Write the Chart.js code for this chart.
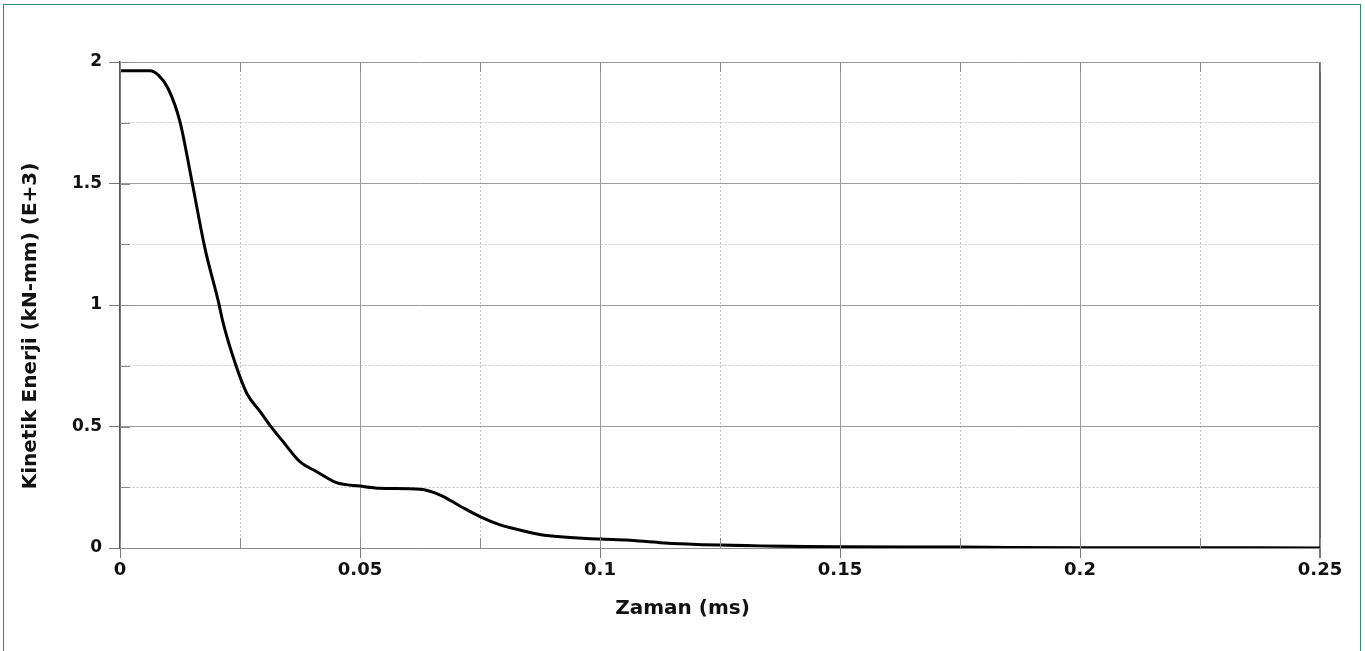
<!DOCTYPE html>
<html>
<head>
<meta charset="utf-8">
<script src="https://cdn.jsdelivr.net/npm/chart.js@4.4.1/dist/chart.umd.min.js"></script>
<style>
  html, body { margin: 0; padding: 0; background: #fff; overflow: hidden; }
  #wrap { position: relative; width: 1365px; height: 651px; }
  #frame { position: absolute; left: 3px; top: 4px; width: 1356px; height: 700px;
           border: 1px solid #2e8b76; border-bottom: none; pointer-events: none; }
  canvas { position: absolute; left: 0; top: 0; }
</style>
</head>
<body>
<div id="wrap">
  <canvas id="keChart" width="1365" height="651"></canvas>
  <div id="frame"></div>
</div>
<script>
// Zaman (ms)
var timeMs = [0, 0.00625, 0.008, 0.01, 0.0125, 0.015, 0.0177, 0.0205, 0.0215, 0.024, 0.0264,
  0.0292, 0.0312, 0.034, 0.0375, 0.041, 0.0451, 0.05, 0.0542, 0.0625, 0.0667, 0.0708, 0.075,
  0.0792, 0.0833, 0.0889, 0.1, 0.1056, 0.1125, 0.125, 0.15, 0.175, 0.185, 0.2, 0.25];
// Kinetik Enerji (kN-mm) (E+3)
var kinEnergy = [1.964, 1.964, 1.946, 1.892, 1.754, 1.507, 1.233, 1.014, 0.925, 0.760, 0.637,
  0.561, 0.506, 0.437, 0.355, 0.314, 0.269, 0.255, 0.246, 0.2415, 0.218, 0.173, 0.129,
  0.095, 0.074, 0.051, 0.037, 0.033, 0.022, 0.012, 0.005, 0.004, 0.002, 0.001, 0.0005];

var xRange = [0, 0.25], xStep = 0.025, xMajor = 0.05;
var yRange = [0, 2], yStep = 0.25, yMajor = 0.5;
var xTitle = 'Zaman (ms)';
var yTitle = 'Kinetik Enerji (kN-mm) (E+3)';

function isMajor(v, m) { return Math.abs(v / m - Math.round(v / m)) < 1e-6; }
function fmt(v) { return String(+v.toFixed(4)); }

var FONT = 'DejaVu Sans, sans-serif';

// small inner ticks along the axes
var innerTicks = {
  id: 'innerTicks',
  afterDatasetsDraw: function (chart) {
    var c = chart.ctx, a = chart.chartArea;
    var xs = chart.scales.x, ys = chart.scales.y;
    c.save();
    c.strokeStyle = '#8a8a8a';
    c.lineWidth = 1;
    c.beginPath();
    xs.ticks.forEach(function (t) {
      var px = Math.round(xs.getPixelForValue(t.value)) + 0.5;
      c.moveTo(px, a.bottom); c.lineTo(px, a.bottom - 10);
      c.moveTo(px, a.top); c.lineTo(px, a.top + 10);
    });
    ys.ticks.forEach(function (t) {
      var py = Math.round(ys.getPixelForValue(t.value)) + 0.5;
      c.moveTo(a.left, py); c.lineTo(a.left + 10, py);
    });
    c.stroke();
    c.restore();
  }
};

// axis titles, centred on the whole figure like the original
var axisTitles = {
  id: 'axisTitles',
  afterDraw: function (chart) {
    var c = chart.ctx;
    c.save();
    c.fillStyle = '#111';
    c.font = 'bold 20px ' + FONT;
    c.textAlign = 'center';
    c.textBaseline = 'middle';
    c.fillText(xTitle, chart.width / 2, 609);
    c.translate(31, 326);
    c.rotate(-Math.PI / 2);
    c.fillText(yTitle, 0, 0);
    c.restore();
  }
};

new Chart(document.getElementById('keChart').getContext('2d'), {
  type: 'line',
  data: {
    datasets: [{
      data: timeMs.map(function (t, i) { return { x: t, y: kinEnergy[i] }; }),
      borderColor: '#000',
      borderWidth: 3,
      pointRadius: 0,
      fill: false,
      cubicInterpolationMode: 'monotone'
    }]
  },
  options: {
    responsive: false,
    animation: false,
    layout: { padding: { left: 0, top: 62, right: 45, bottom: 0 } },
    plugins: { legend: { display: false }, tooltip: { enabled: false } },
    scales: {
      x: {
        type: 'linear', min: xRange[0], max: xRange[1],
        afterFit: function (s) { s.height = 103; },
        ticks: {
          stepSize: xStep, padding: 2, maxRotation: 0, autoSkip: false,
          color: '#111', font: { family: FONT, size: 18, weight: 'bold' },
          callback: function (v) { return isMajor(v, xMajor) ? fmt(v) : ''; }
        },
        grid: {
          tickLength: 10,
          color: function (c) {
            var v = c.tick ? c.tick.value : 0;
            if (Math.abs(v - xRange[1]) < 1e-9) return '#666';
            return isMajor(v, xMajor) ? '#9a9a9a' : '#c4c4c4';
          },
          lineWidth: function (c) { return c.tick && Math.abs(c.tick.value - xRange[1]) < 1e-9 ? 2 : 1; },
          tickColor: function (c) { return c.tick && isMajor(c.tick.value, xMajor) ? '#777' : 'rgba(0,0,0,0)'; }
        },
        border: {
          color: '#8a8a8a', width: 1,
          dash: function (c) { return c.tick && !isMajor(c.tick.value, xMajor) ? [2, 2] : []; }
        }
      },
      y: {
        type: 'linear', min: yRange[0], max: yRange[1],
        afterFit: function (s) { s.width = 120; },
        ticks: {
          stepSize: yStep, padding: 7, autoSkip: false,
          color: '#111', font: { family: FONT, size: 17, weight: 'bold' },
          callback: function (v) { return isMajor(v, yMajor) ? fmt(v) : ''; }
        },
        grid: {
          tickLength: 11,
          color: function (c) { return c.tick && isMajor(c.tick.value, yMajor) ? '#9a9a9a' : '#c4c4c4'; },
          tickColor: function (c) { return c.tick && isMajor(c.tick.value, yMajor) ? '#777' : 'rgba(0,0,0,0)'; }
        },
        border: {
          color: '#555', width: 1.5,
          dash: function (c) { return c.tick && !isMajor(c.tick.value, yMajor) ? [2, 2] : []; }
        }
      }
    }
  },
  plugins: [innerTicks, axisTitles]
});
</script>
</body>
</html>
